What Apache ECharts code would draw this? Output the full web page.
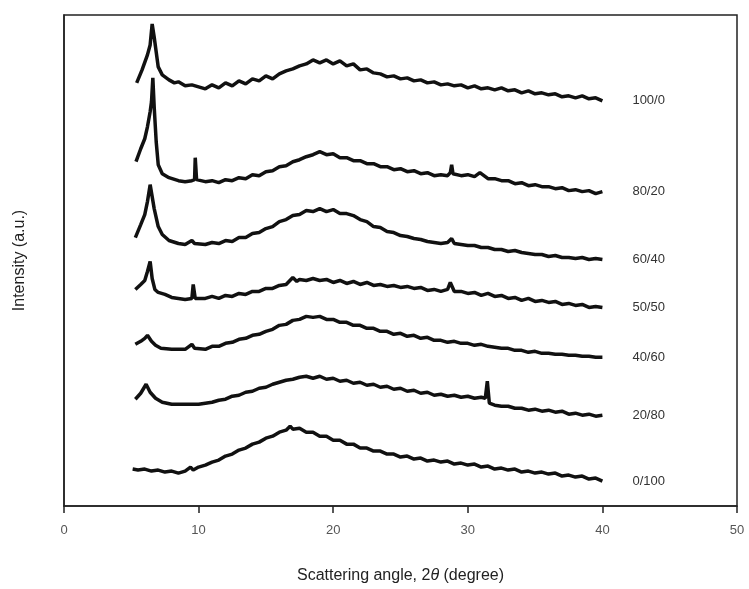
<!DOCTYPE html>
<html>
<head>
<meta charset="utf-8">
<script src="https://cdn.jsdelivr.net/npm/echarts@6/dist/echarts.min.js"></script>
<style>
  html, body { margin: 0; padding: 0; background: #fff; }
  #chart { width: 749px; height: 589px; }
</style>
</head>
<body>
<div id="chart"></div>
<script>
// sample names (blend ratio), top to bottom
const sampleNames = ["100/0", "80/20", "60/40", "50/50", "40/60", "20/80", "0/100"];
const xTicks = [0, 10, 20, 30, 40, 50];

// 2theta (deg) and stacked intensity (a.u.)
const angle100_0 = [5.4, 5.8, 6.2, 6.4, 6.55, 6.7, 6.85, 7.0, 7.3, 7.8, 8.2, 8.5, 9, 9.5, 10, 10.5, 11, 11.5, 12, 12.5, 13, 13.5, 14, 14.5, 15, 15.5, 16, 16.5, 17, 17.5, 18, 18.5, 19, 19.5, 20, 20.5, 21, 21.5, 22, 22.5, 23, 23.5, 24, 24.5, 25, 25.5, 26, 26.5, 27, 27.5, 28, 28.5, 29, 29.5, 30, 30.5, 31, 31.5, 32, 32.5, 33, 33.5, 34, 34.5, 35, 35.5, 36, 36.5, 37, 37.5, 38, 38.5, 39, 39.5, 40];
const int100_0 = [424, 437, 452, 462, 483, 470, 455, 440, 432, 427, 424, 425, 421, 422, 420, 418, 422, 419, 424, 421, 426, 423, 428, 426, 431, 428, 433, 436, 438, 441, 443, 447, 444, 447, 443, 446, 441, 443, 437, 438, 434, 433, 430, 431, 428, 429, 426, 427, 424, 425, 422, 423, 421, 422, 419, 421, 418, 419, 417, 419, 416, 417, 414, 416, 413, 414, 412, 413, 410, 411, 409, 411, 408, 409, 406];

const angle80_20 = [5.35, 5.7, 6.0, 6.2, 6.4, 6.5, 6.6, 6.7, 6.85, 7.0, 7.3, 7.8, 8.5, 9.0, 9.5, 9.7, 9.75, 9.85, 10.5, 11, 11.5, 12, 12.5, 13, 13.5, 14, 14.5, 15, 15.5, 16, 16.5, 17, 17.5, 18, 18.5, 19, 19.5, 20, 20.5, 21, 21.5, 22, 22.5, 23, 23.5, 24, 24.5, 25, 25.5, 26, 26.5, 27, 27.5, 28, 28.5, 28.7, 28.8, 28.9, 29.5, 30, 30.5, 30.9, 31.5, 32, 32.5, 33, 33.5, 34, 34.5, 35, 35.5, 36, 36.5, 37, 37.5, 38, 38.5, 39, 39.5, 40];
const int80_20 = [345, 358, 368, 380, 395, 405, 429, 400, 365, 342, 333, 329, 326, 325, 326, 327, 349, 327, 325, 326, 324, 327, 326, 329, 328, 332, 331, 335, 336, 340, 341, 345, 347, 350, 352, 355, 352, 353, 349, 349, 346, 346, 343, 343, 340, 340, 337, 338, 335, 336, 333, 334, 331, 332, 331, 334, 342, 333, 331, 332, 330, 334, 328, 328, 326, 326, 323, 324, 321, 322, 320, 320, 318, 319, 316, 317, 315, 316, 313, 315];

const angle60_40 = [5.3, 5.7, 6.0, 6.2, 6.4, 6.55, 6.7, 7.0, 7.3, 7.8, 8.5, 9.0, 9.5, 9.7, 10.5, 11, 11.5, 12, 12.5, 13, 13.5, 14, 14.5, 15, 15.5, 16, 16.5, 17, 17.5, 18, 18.5, 19, 19.5, 20, 20.5, 21, 21.5, 22, 22.5, 23, 23.5, 24, 24.5, 25, 25.5, 26, 26.5, 27, 27.5, 28, 28.5, 28.8, 29, 29.5, 30, 30.5, 31, 31.5, 32, 32.5, 33, 33.5, 34, 34.5, 35, 35.5, 36, 36.5, 37, 37.5, 38, 38.5, 39, 39.5, 40];
const int60_40 = [269, 282, 292, 305, 322, 310, 298, 280, 272, 266, 263, 262, 266, 263, 262, 264, 263, 266, 265, 269, 269, 273, 274, 278, 280, 285, 287, 291, 292, 296, 295, 298, 295, 297, 293, 293, 291, 287, 285, 280, 279, 275, 274, 271, 270, 268, 267, 265, 264, 263, 264, 268, 263, 262, 261, 261, 259, 259, 257, 257, 255, 256, 254, 253, 252, 252, 250, 251, 249, 249, 248, 249, 247, 248, 247];

const angle50_50 = [5.3, 5.7, 6.0, 6.2, 6.4, 6.55, 6.75, 7.0, 7.5, 8.0, 8.5, 9.0, 9.5, 9.6, 9.75, 10.5, 11, 11.5, 12, 12.5, 13, 13.5, 14, 14.5, 15, 15.5, 16, 16.5, 17, 17.3, 17.5, 18, 18.5, 19, 19.5, 20, 20.5, 21, 21.5, 22, 22.5, 23, 23.5, 24, 24.5, 25, 25.5, 26, 26.5, 27, 27.5, 28, 28.5, 28.7, 29, 29.5, 30, 30.5, 31, 31.5, 32, 32.5, 33, 33.5, 34, 34.5, 35, 35.5, 36, 36.5, 37, 37.5, 38, 38.5, 39, 39.5, 40];
const int50_50 = [217, 222, 226, 235, 245, 228, 217, 214, 212, 209, 208, 207, 208, 222, 208, 208, 210, 208, 211, 210, 213, 212, 215, 215, 218, 218, 221, 222, 229, 225, 227, 226, 228, 226, 227, 224, 226, 223, 225, 222, 224, 221, 222, 220, 221, 219, 220, 218, 219, 216, 217, 215, 217, 224, 215, 215, 213, 214, 211, 213, 210, 211, 208, 209, 206, 208, 205, 206, 204, 205, 202, 203, 201, 202, 199, 200, 199];

const angle40_60 = [5.3, 5.7, 6.0, 6.2, 6.5, 6.8, 7.2, 8, 9, 9.5, 9.7, 10.5, 11, 11.5, 12, 12.5, 13, 13.5, 14, 14.5, 15, 15.5, 16, 16.5, 17, 17.5, 18, 18.5, 19, 19.5, 20, 20.5, 21, 21.5, 22, 22.5, 23, 23.5, 24, 24.5, 25, 25.5, 26, 26.5, 27, 27.5, 28, 28.5, 29, 29.5, 30, 30.5, 31, 31.5, 32, 32.5, 33, 33.5, 34, 34.5, 35, 35.5, 36, 36.5, 37, 37.5, 38, 38.5, 39, 39.5, 40];
const int40_60 = [162, 165, 168, 171, 165, 161, 158, 157, 157, 162, 158, 157, 160, 160, 163, 164, 167, 168, 171, 172, 175, 177, 181, 182, 186, 187, 190, 189, 190, 187, 187, 184, 184, 181, 181, 178, 178, 175, 175, 172, 173, 170, 171, 168, 169, 166, 166, 164, 165, 163, 163, 161, 162, 160, 159, 158, 158, 156, 156, 154, 155, 153, 153, 152, 152, 151, 151, 150, 150, 149, 149];

const angle20_80 = [5.3, 5.7, 6.1, 6.4, 6.8, 7.3, 8, 9, 10, 10.5, 11, 11.5, 12, 12.5, 13, 13.5, 14, 14.5, 15, 15.5, 16, 16.5, 17, 17.5, 18, 18.5, 19, 19.5, 20, 20.5, 21, 21.5, 22, 22.5, 23, 23.5, 24, 24.5, 25, 25.5, 26, 26.5, 27, 27.5, 28, 28.5, 29, 29.5, 30, 30.5, 31, 31.3, 31.45, 31.6, 32, 32.5, 33, 33.5, 34, 34.5, 35, 35.5, 36, 36.5, 37, 37.5, 38, 38.5, 39, 39.5, 40];
const int20_80 = [107, 113, 122, 114, 108, 104, 102, 102, 102, 103, 104, 106, 107, 110, 111, 114, 115, 118, 119, 122, 124, 126, 127, 129, 130, 128, 130, 127, 128, 125, 126, 123, 124, 121, 122, 119, 120, 117, 118, 115, 116, 113, 114, 111, 112, 110, 111, 109, 110, 108, 109, 108, 125, 103, 101, 100, 100, 98, 98, 96, 97, 95, 96, 94, 95, 92, 93, 91, 92, 90, 91];

const angle0_100 = [5.1, 5.5, 6, 6.5, 7, 7.5, 8, 8.5, 9, 9.4, 9.6, 10, 10.5, 11, 11.5, 12, 12.5, 13, 13.5, 14, 14.5, 15, 15.5, 16, 16.5, 16.8, 17, 17.5, 18, 18.5, 19, 19.5, 20, 20.5, 21, 21.5, 22, 22.5, 23, 23.5, 24, 24.5, 25, 25.5, 26, 26.5, 27, 27.5, 28, 28.5, 29, 29.5, 30, 30.5, 31, 31.5, 32, 32.5, 33, 33.5, 34, 34.5, 35, 35.5, 36, 36.5, 37, 37.5, 38, 38.5, 39, 39.5, 40];
const int0_100 = [37, 36, 37, 35, 36, 34, 35, 33, 35, 39, 36, 39, 41, 44, 46, 50, 52, 56, 58, 62, 64, 68, 70, 74, 76, 80, 77, 78, 74, 74, 70, 70, 66, 66, 62, 62, 58, 58, 55, 55, 52, 52, 49, 50, 47, 48, 45, 46, 44, 45, 42, 43, 41, 42, 39, 40, 37, 38, 36, 37, 34, 35, 33, 34, 32, 33, 30, 31, 29, 30, 27, 28, 25];

const curves = [
  [angle100_0, int100_0],
  [angle80_20, int80_20],
  [angle60_40, int60_40],
  [angle50_50, int50_50],
  [angle40_60, int40_60],
  [angle20_80, int20_80],
  [angle0_100, int0_100]
];

const chart = echarts.init(document.getElementById("chart"));

const series = curves.map(([xs, ys], i) => ({
  name: sampleNames[i],
  type: "line",
  data: xs.map((x, j) => [x, ys[j]]),
  symbol: "none",
  lineStyle: { color: "#111", width: 3.5 },
  endLabel: {
    show: true,
    formatter: sampleNames[i],
    distance: 30,
    color: "#333",
    fontSize: 13,
    fontFamily: "Liberation Sans"
  }
}));

const option = {
  backgroundColor: "#fff",
  animation: false,
  grid: {
    left: 64,
    right: 12,
    top: 15,
    bottom: 82,
    show: true,
    borderColor: "#222",
    borderWidth: 1.5
  },
  xAxis: {
    type: "value",
    min: xTicks[0],
    max: xTicks[xTicks.length - 1],
    interval: 10,
    name: "Scattering angle, 2{i|θ} (degree)",
    nameLocation: "middle",
    nameGap: 62,
    nameTextStyle: {
      fontSize: 16,
      color: "#222",
      fontFamily: "Liberation Sans",
      rich: { i: { fontStyle: "italic", fontSize: 16, color: "#222", fontFamily: "Liberation Sans" } }
    },
    axisLine: { show: true, onZero: false, lineStyle: { color: "#222", width: 1.5 } },
    axisTick: { show: true, inside: false, length: 7, lineStyle: { color: "#222", width: 1.5 } },
    axisLabel: { color: "#555", fontSize: 13, margin: 18, fontFamily: "Liberation Sans" },
    splitLine: { show: false }
  },
  yAxis: {
    type: "value",
    min: 0,
    max: 492,
    name: "Intensity (a.u.)",
    nameLocation: "middle",
    nameGap: 36,
    nameRotate: 90,
    nameTextStyle: { fontSize: 16, color: "#222", fontFamily: "Liberation Sans" },
    axisLine: { show: true, lineStyle: { color: "#222", width: 1.5 } },
    axisTick: { show: false },
    axisLabel: { show: false },
    splitLine: { show: false }
  },
  series: series
};

chart.setOption(option);
</script>
</body>
</html>
